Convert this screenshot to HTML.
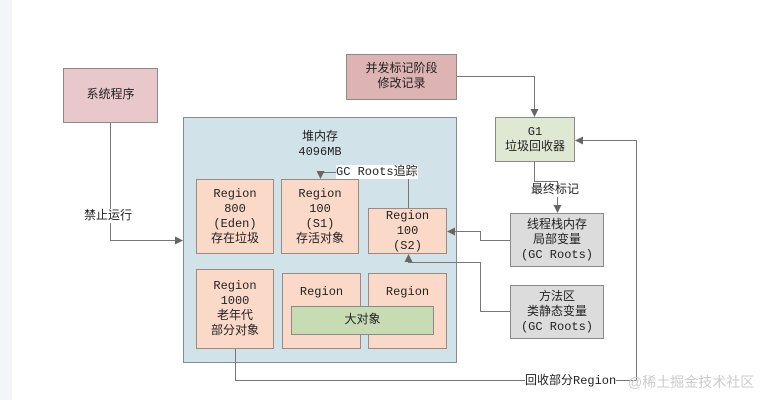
<!DOCTYPE html>
<html><head><meta charset="utf-8"><style>
body{margin:0;width:781px;height:400px;background:#fff;overflow:hidden;position:relative;font-family:"Liberation Mono","Noto Sans CJK SC",monospace;font-size:12px;color:#222}
.b{position:absolute;box-sizing:border-box;border:1px solid #8a8a8a;display:flex;flex-direction:column;align-items:center;justify-content:center;text-align:center;line-height:15px}
.r{background:#fbd9c8;border-color:#9a8a80}
.t{position:absolute;background:#fff;white-space:nowrap;line-height:14px}
</style></head><body>
<div style="position:absolute;left:0;top:0;width:12px;height:400px;background:#f3f5f8"></div>
<div class="b" style="left:63px;top:68px;width:95px;height:55px;background:#e8c8ca">系统程序</div>
<div class="b" style="left:346px;top:54px;width:111px;height:46px;background:#ddb3b3">并发标记阶段<br>修改记录</div>
<div class="b" style="left:183px;top:117px;width:274px;height:246px;background:#d1e3e9;justify-content:flex-start;padding-top:12px">堆内存<br>4096MB</div>
<div class="b r" style="left:196px;top:179px;width:78px;height:75px">Region<br>800<br>(Eden)<br>存在垃圾</div>
<div class="b r" style="left:281px;top:179px;width:78px;height:75px">Region<br>100<br>(S1)<br>存活对象</div>
<div class="b r" style="left:368px;top:208px;width:79px;height:46px">Region<br>100<br>(S2)</div>
<div class="b r" style="left:196px;top:269px;width:78px;height:80px">Region<br>1000<br>老年代<br>部分对象</div>
<div class="b r" style="left:282px;top:273px;width:79px;height:76px;justify-content:flex-start;padding-top:11px">Region</div>
<div class="b r" style="left:368px;top:273px;width:79px;height:76px;justify-content:flex-start;padding-top:11px">Region</div>
<div class="b" style="left:291px;top:306px;width:143px;height:29px;background:#c8dcb4">大对象</div>
<div class="b" style="left:495px;top:117px;width:80px;height:45px;background:#dfe8d3">G1<br>垃圾回收器</div>
<div class="b" style="left:510px;top:213px;width:94px;height:54px;background:#dcdcdc">线程栈内存<br>局部变量<br>(GC Roots)</div>
<div class="b" style="left:510px;top:285px;width:94px;height:54px;background:#dcdcdc">方法区<br>类静态变量<br>(GC Roots)</div>
<svg width="781" height="400" style="position:absolute;left:0;top:0">
<defs><marker id="a" markerWidth="8" markerHeight="8" refX="7" refY="4" orient="auto" markerUnits="userSpaceOnUse"><path d="M0,0L8,4L0,8z" fill="#666"/></marker></defs>
<g fill="none" stroke="#777" stroke-width="1">
<path d="M110.5,123V240.5H182" marker-end="url(#a)"/>
<path d="M457,76.5H534.5V116" marker-end="url(#a)"/>
<path d="M534.5,162V181.5H557.5V212" marker-end="url(#a)"/>
<path d="M510,240.5H480.5V231.5H448" marker-end="url(#a)"/>
<path d="M510,311.5H480.5V262.5H408.5V255" marker-end="url(#a)"/>
<path d="M408.5,208V172"/>
<path d="M336,172.5H320.5V178" marker-end="url(#a)"/>
<path d="M235.5,349V380.5H636.5V140.5H576" marker-end="url(#a)"/>
</g></svg>
<div class="t" style="left:336px;top:165px">GC Roots追踪</div>
<div class="t" style="left:84px;top:209px">禁止运行</div>
<div class="t" style="left:531px;top:183px">最终标记</div>
<div class="t" style="left:525px;top:374px">回收部分Region</div>
<div class="t" style="left:628px;top:375px;color:#ccc;font-family:'Liberation Sans','Noto Sans CJK SC',sans-serif;font-size:14px;background:none">@稀土掘金技术社区</div>
</body></html>
